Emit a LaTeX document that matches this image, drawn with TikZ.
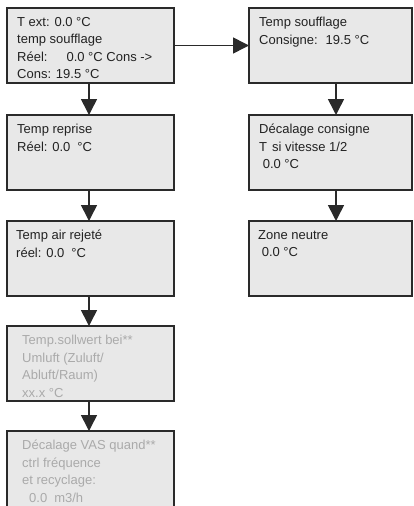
\documentclass[tikz,border=0pt]{standalone}
\usepackage{fontspec}
\setmainfont{Liberation Sans}
\usetikzlibrary{arrows.meta}
\definecolor{boxfill}{HTML}{E8E8E8}
\definecolor{boxline}{HTML}{2A2A2A}
\definecolor{txt}{HTML}{222222}
\definecolor{faint}{HTML}{AAAAAA}
\tikzset{
  panel/.style={draw=boxline, line width=1.6pt, fill=boxfill, anchor=north west, inner sep=0pt, outer sep=0pt},
  lpanel/.style={panel, minimum width=167pt, minimum height=75pt},
  rpanel/.style={panel, minimum width=163pt, minimum height=75pt},
  label/.style={anchor=north west, inner sep=0pt, align=left, text=txt, font=\fontsize{13pt}{17.5pt}\selectfont},
  flabel/.style={label, text=faint},
  arr/.style={draw=boxline, line width=1.6pt, -{Triangle[length=16pt,width=16pt]}}
}
\begin{document}
\begin{tikzpicture}[x=1pt,y=-1pt]
\useasboundingbox (0,0) rectangle (413,506);
\clip (0,0) rectangle (413,506);
% left column
\node[lpanel] (b1) at (7,8) {};
\node[lpanel] (b2) at (7,115) {};
\node[lpanel] (b3) at (7,221) {};
\node[lpanel] (b4) at (7,326) {};
\node[lpanel, minimum height=100pt] (b5) at (7,431) {};
% right column
\node[rpanel] (r1) at (249,8) {};
\node[rpanel] (r2) at (249,115) {};
\node[rpanel] (r3) at (249,221) {};
% texts
\node[label] (t1) at (17,17) {T ext: 0.0 °C\\temp soufflage\\Réel:\hspace{19pt}0.0 °C Cons ->\\Cons: 19.5 °C};
\node[label] (t2) at (17,124) {Temp reprise\\Réel: 0.0\hspace{7pt}°C};
\node[label] (t3) at (16,230) {Temp air rejeté\\réel: 0.0\hspace{7pt}°C};
\node[flabel] (t4) at (22,335) {Temp.sollwert bei**\\Umluft (Zuluft/\\Abluft/Raum)\\xx.x °C};
\node[flabel] (t5) at (22,440) {Décalage VAS quand**\\ctrl fréquence\\et recyclage:\\\hspace{7pt}0.0\hspace{7pt}m3/h};
\node[label] (u1) at (259,17) {Temp soufflage\\Consigne:\hspace{8pt}19.5 °C};
\node[label] (u2) at (259,124) {Décalage consigne\\T\hspace{5pt}si vitesse 1/2\\\hspace{3.6pt}0.0 °C};
\node[label] (u3) at (258,230) {Zone neutre\\\hspace{3.6pt}0.0 °C};
% connectors
\draw[arr] ([xshift=-1.5pt]b1.south) -- ([xshift=-1.5pt]b2.north);
\draw[arr] ([xshift=-1.5pt]b2.south) -- ([xshift=-1.5pt]b3.north);
\draw[arr] ([xshift=-1.5pt]b3.south) -- ([xshift=-1.5pt]b4.north);
\draw[arr] ([xshift=-1.5pt]b4.south) -- ([xshift=-1.5pt]b4.south |- b5.north);
\draw[arr] (b1.east) -- (r1.west);
\draw[arr] ([xshift=5.5pt]r1.south) -- ([xshift=5.5pt]r2.north);
\draw[arr] ([xshift=5.5pt]r2.south) -- ([xshift=5.5pt]r3.north);
\end{tikzpicture}
\end{document}
